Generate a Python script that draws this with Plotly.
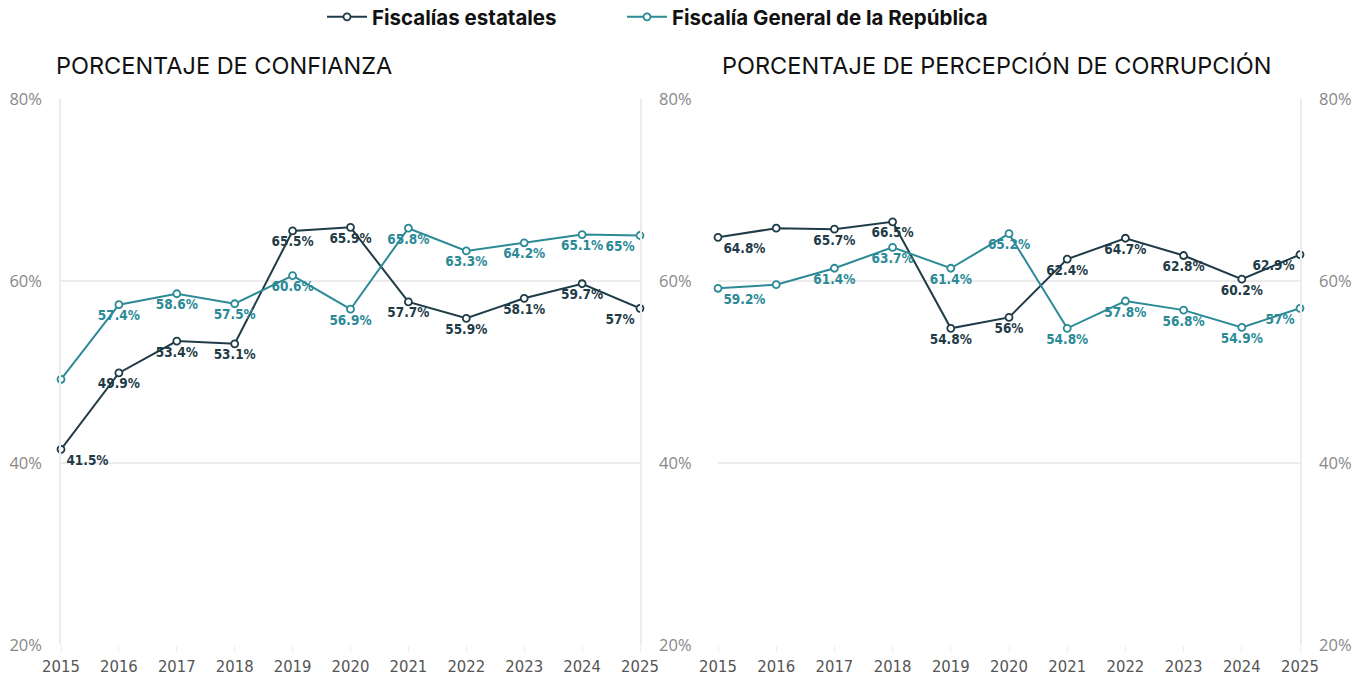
import plotly.graph_objects as go

years = list(range(2015, 2026))

# Porcentaje de confianza
conf_estatales = [41.5, 49.9, 53.4, 53.1, 65.5, 65.9, 57.7, 55.9, 58.1, 59.7, 57]
conf_fgr = [49.2, 57.4, 58.6, 57.5, 60.6, 56.9, 65.8, 63.3, 64.2, 65.1, 65]
conf_fgr_show = [False] + [True] * 10

# Porcentaje de percepción de corrupción
corr_estatales = [64.8, 65.8, 65.7, 66.5, 54.8, 56, 62.4, 64.7, 62.8, 60.2, 62.9]
corr_estatales_show = [True, False] + [True] * 9
corr_fgr = [59.2, 59.6, 61.4, 63.7, 61.4, 65.2, 54.8, 57.8, 56.8, 54.9, 57]
corr_fgr_show = [True, False] + [True] * 9

series_names = ["Fiscalías estatales", "Fiscalía General de la República"]
y_ticks = [20, 40, 60, 80]
y_tick_labels = ["20%", "40%", "60%", "80%"]
panel_titles = ["PORCENTAJE DE CONFIANZA", "PORCENTAJE DE PERCEPCIÓN DE CORRUPCIÓN"]

DARK = "#1f3b47"
TEAL = "#2b8a96"
W, H = 1361, 679


def fmt(v):
    return f"{v:g}%"


def positions(n):
    pos = ["bottom center"] * n
    pos[0] = "bottom right"
    pos[-1] = "bottom left"
    return pos


def trace(vals, show, color, name, xa, ya, legend, legend_id):
    text = [fmt(v) if s else "" for v, s in zip(vals, show)]
    return go.Scatter(
        x=years, y=vals, mode="lines+markers+text", name=name,
        text=text, textposition=positions(len(vals)),
        textfont=dict(family="DejaVu Sans Condensed, DejaVu Sans", size=13.5, color=color, weight="bold"),
        line=dict(color=color, width=2),
        marker=dict(symbol="circle", size=7, color="white", line=dict(color=color, width=1.8)),
        xaxis=xa, yaxis=ya, showlegend=legend, legendgroup=name, legend=legend_id,
        cliponaxis=False,
        hovertemplate="%{y}%<extra>" + name + "</extra>",
    )


fig = go.Figure()
fig.add_trace(trace(conf_estatales, [True] * 11, DARK, series_names[0], "x", "y", True, "legend"))
fig.add_trace(trace(conf_fgr, conf_fgr_show, TEAL, series_names[1], "x", "y", True, "legend2"))
fig.add_trace(trace(corr_estatales, corr_estatales_show, DARK, series_names[0], "x2", "y2", False, "legend"))
fig.add_trace(trace(corr_fgr, corr_fgr_show, TEAL, series_names[1], "x2", "y2", False, "legend2"))

ydom = [(H - 645) / H, (H - 99) / H]
xtickfont = dict(family="DejaVu Sans Condensed, Open Sans", size=16.5, color="#555555")
ytickfont = dict(family="Open Sans", size=16.5, color="#888888")
grid = "#ececec"

xcommon = dict(range=[2015, 2025], tickvals=years, showgrid=False, zeroline=False,
               ticks="outside", ticklen=6, tickcolor=grid, tickfont=xtickfont,
               showline=False, fixedrange=True, automargin=False)
ycommon = dict(range=[20, 80], tickmode="array", tickvals=y_ticks, ticktext=y_tick_labels,
               gridcolor=grid, gridwidth=1.5, zeroline=False, showline=True, linecolor=grid,
               linewidth=1.5, tickfont=ytickfont, ticks="", ticklabelstandoff=14,
               fixedrange=True, automargin=False, domain=ydom)

legend_common = dict(orientation="h", xanchor="left", y=1 - 17 / H, yanchor="middle",
                     font=dict(family="Inter", size=20.5, color="#111111", weight="bold"),
                     itemwidth=40, bgcolor="rgba(0,0,0,0)")

fig.update_layout(
    width=W, height=H,
    margin=dict(l=0, r=0, t=0, b=0, autoexpand=False),
    paper_bgcolor="white", plot_bgcolor="white",
    xaxis=dict(domain=[61 / W, 640 / W], anchor="y", **xcommon),
    yaxis=dict(anchor="x", side="left", showgrid=True, **ycommon),
    yaxis3=dict(anchor="x", overlaying="y", side="right", showgrid=False, **ycommon),
    xaxis2=dict(domain=[718 / W, 1300 / W], anchor="y2", **xcommon),
    yaxis2=dict(anchor="x2", side="right", showgrid=True, **ycommon),
    legend=dict(x=322 / W, **legend_common),
    legend2=dict(x=622 / W, **legend_common),
    showlegend=True,
)

# invisible trace to anchor yaxis3
fig.add_trace(go.Scatter(x=[2015], y=[20], xaxis="x", yaxis="y3", mode="markers",
                         marker=dict(opacity=0), showlegend=False, hoverinfo="skip"))

for xpx, title in zip([54, 720], panel_titles):
    fig.add_annotation(text=title, x=xpx / W, xref="paper", xanchor="left",
                       y=1 - 65 / H, yref="paper", yanchor="middle", showarrow=False,
                       font=dict(family="Inter", size=23.5, color="#111111"))

fig.write_html("out.html")
